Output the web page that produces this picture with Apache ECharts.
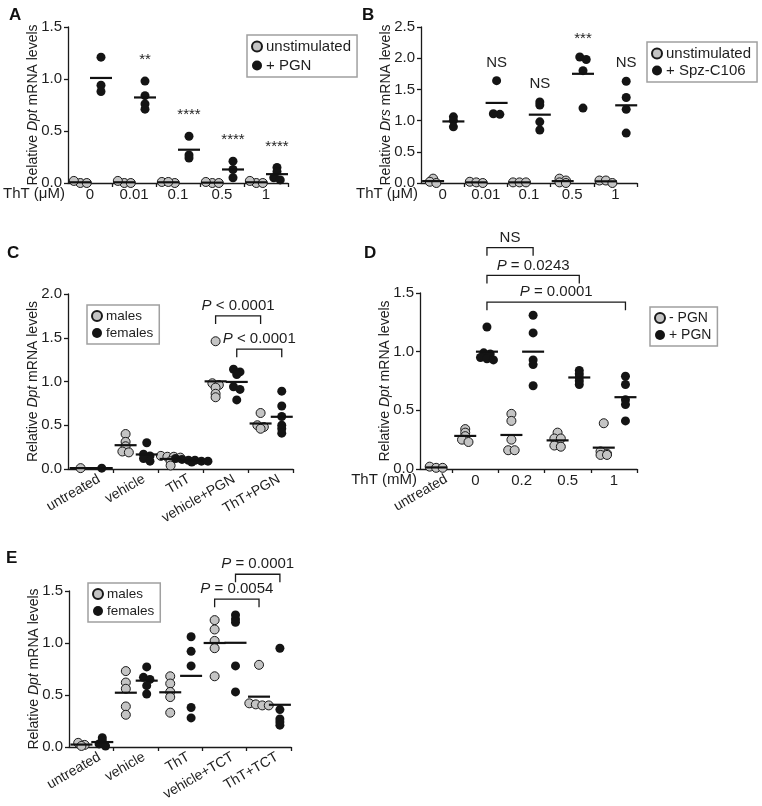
<!DOCTYPE html>
<html><head><meta charset="utf-8">
<script src="https://cdn.jsdelivr.net/npm/echarts@6/dist/echarts.min.js"></script>
<style>html,body{margin:0;padding:0;background:#fff}#c{width:762px;height:806px}</style>
</head><body><div id="c"></div>
<script>
// ---------------- data ----------------
const catsA = ['0', '0.01', '0.1', '0.5', '1'];
const aUnstim = [[0.0, 0.0, 0.02], [0.0, 0.0, 0.02], [0.0, 0.01, 0.01], [0.0, 0.0, 0.01], [0.0, 0.0, 0.02]];
const aPGN = [[1.21, 0.94, 0.88], [0.98, 0.84, 0.76, 0.71], [0.45, 0.27, 0.24], [0.21, 0.13, 0.05], [0.15, 0.11, 0.05, 0.03]];
const annA = ['', '**', '****', '****', '****'];

const catsB = ['0', '0.01', '0.1', '0.5', '1'];
const bUnstim = [[0.07, 0.02, 0.0], [0.02, 0.01, 0.0], [0.01, 0.01, 0.01], [0.07, 0.04, 0.01, 0.0], [0.04, 0.04, 0.0]];
const bSpz = [[1.06, 1.0, 0.9], [1.64, 1.10, 1.11], [1.30, 1.25, 0.98, 0.85], [2.02, 1.98, 1.80, 1.20], [1.63, 1.37, 1.18, 0.80]];
const annB = ['', 'NS', 'NS', '***', 'NS'];

const catsC = ['untreated', 'vehicle', 'ThT', 'vehicle+PGN', 'ThT+PGN'];
const cMales = [[0.01], [0.40, 0.31, 0.26, 0.20, 0.19], [0.15, 0.14, 0.14, 0.13, 0.09, 0.04], [1.46, 0.98, 0.96, 0.93, 0.86, 0.82], [0.64, 0.50, 0.48, 0.46]];
const cFemales = [[0.01], [0.30, 0.17, 0.15, 0.12, 0.09], [0.12, 0.11, 0.10, 0.10, 0.09, 0.09, 0.08], [1.14, 1.11, 1.08, 0.94, 0.91, 0.79], [0.89, 0.72, 0.60, 0.50, 0.46, 0.41]];
const cBrkFrom = [[3, 0], [3, 1]];
const cBrkTo = [[4, 0], [4, 1]];
const cBrkLevel = [1.75, 1.37];
const cBrkText = ['P < 0.0001', 'P < 0.0001'];

const catsD = ['untreated', '0', '0.2', '0.5', '1'];
const dMinus = [[0.02, 0.01, 0.01], [0.34, 0.31, 0.28, 0.25, 0.23], [0.47, 0.41, 0.25, 0.16, 0.16], [0.31, 0.26, 0.26, 0.20, 0.19], [0.39, 0.15, 0.13, 0.12, 0.12]];
const dPlus = [[], [1.21, 0.99, 0.98, 0.95, 0.94, 0.93], [1.31, 1.16, 0.93, 0.89, 0.71], [0.84, 0.81, 0.78, 0.75, 0.72], [0.79, 0.72, 0.59, 0.55, 0.41]];
const dBrkFrom = [[1, 1], [1, 1], [1, 1]];
const dBrkTo = [[2, 1], [3, 1], [4, 1]];
const dBrkLevel = [1.886, 1.65, 1.422];
const dBrkText = ['NS', 'P = 0.0243', 'P = 0.0001'];

const catsE = ['untreated', 'vehicle', 'ThT', 'vehicle+TCT', 'ThT+TCT'];
const eMales = [[0.04, 0.02, 0.01], [0.73, 0.62, 0.56, 0.39, 0.31], [0.68, 0.61, 0.53, 0.48, 0.33], [1.22, 1.13, 1.02, 0.95, 0.68], [0.79, 0.42, 0.41, 0.40, 0.40]];
const eFemales = [[0.09, 0.06, 0.03, 0.01], [0.77, 0.67, 0.65, 0.59, 0.51], [1.06, 0.92, 0.78, 0.38, 0.28], [1.27, 1.23, 1.20, 0.78, 0.53], [0.95, 0.36, 0.27, 0.24, 0.21]];
const eBrkFrom = [[3, 0], [3, 1]];
const eBrkTo = [[4, 0], [4, 1]];
const eBrkLevel = [1.421, 1.661];
const eBrkText = ['P = 0.0054', 'P = 0.0001'];

// ---------------- layout / style ----------------
const FONT = '"Liberation Sans", Arial, Helvetica, sans-serif';
const TXT = '#1e1e1e';
const LINE = '#1a1a1a';
const OFF = [-0.22, 0.25];
const DOT = 9;

const panels = [
  {letter: 'A', cats: catsA, g: aUnstim, b: aPGN, names: ['unstimulated', '+ PGN'], gene: 'Dpt', ymax: 1.5, ann: annA,
    lay: {grid: {left: 68, top: 27, width: 220, height: 156}, widths: [1, 1, 1, 1, 1], rotate: 0, shift: 0, annPx: 21,
      xName: 'ThT (\u03bcM)', legend: {left: 247, top: 35}, legendFont: 15, legendGap: 4, letterPos: [9, 7]}},
  {letter: 'B', cats: catsB, g: bUnstim, b: bSpz, names: ['unstimulated', '+ Spz-C106'], gene: 'Drs', ymax: 2.5, ann: annB,
    lay: {grid: {left: 421, top: 27, width: 216, height: 156}, widths: [1, 1, 1, 1, 1], rotate: 0, shift: 0, annPx: 18,
      xName: 'ThT (\u03bcM)', legend: {left: 647, top: 42}, legendFont: 15, legendGap: 2, letterPos: [362, 7]}},
  {letter: 'C', cats: catsC, g: cMales, b: cFemales, names: ['males', 'females'], gene: 'Dpt', ymax: 2.0,
    brk: {from: cBrkFrom, to: cBrkTo, level: cBrkLevel, text: cBrkText},
    lay: {grid: {left: 68, top: 294, width: 225, height: 175}, widths: [1, 1, 1, 1, 1], rotate: 30, shift: 0.19,
      legend: {left: 87, top: 305}, legendFont: 13.5, legendGap: 3, letterPos: [7, 245]}},
  {letter: 'D', cats: catsD, g: dMinus, b: dPlus, names: ['- PGN', '+ PGN'], gene: 'Dpt', ymax: 1.5,
    brk: {from: dBrkFrom, to: dBrkTo, level: dBrkLevel, text: dBrkText},
    lay: {grid: {left: 420, top: 293, width: 217, height: 176}, widths: [0.7, 1, 1, 1, 1], rotate: 0, shift: 0, rotFirst: 0.22,
      xName: 'ThT (mM)', legend: {left: 650, top: 307}, legendFont: 14, legendGap: 3, letterPos: [364, 245]}},
  {letter: 'E', cats: catsE, g: eMales, b: eFemales, names: ['males', 'females'], gene: 'Dpt', ymax: 1.5,
    brk: {from: eBrkFrom, to: eBrkTo, level: eBrkLevel, text: eBrkText},
    lay: {grid: {left: 69, top: 591, width: 222, height: 156}, widths: [1, 1, 1, 1, 1], rotate: 30, shift: 0.19,
      legend: {left: 88, top: 583}, legendFont: 13.5, legendGap: 3, letterPos: [6, 550]}}
];

// beeswarm-like horizontal spreading of points that share (nearly) the same level
function swarm(vals, pxY, diam) {
  const h = diam * 0.3, sp = diam * 0.72;
  const order = vals.map((v, i) => i).sort((a, b) => vals[b] - vals[a]);
  const off = new Array(vals.length).fill(0);
  let row = [], start = null;
  const flush = () => { row.forEach((i, k) => { off[i] = (k - (row.length - 1) / 2) * sp; }); };
  order.forEach(i => {
    const py = vals[i] * pxY;
    if (start === null || start - py >= h) { flush(); row = [i]; start = py; }
    else row.push(i);
  });
  flush();
  return off;
}
const mean = a => a.reduce((s, v) => s + v, 0) / a.length;

function pText(t) {
  if (t.startsWith('P ')) return '{i|P}' + t.slice(1);
  return t;
}
const richText = {i: {fontStyle: 'italic', fontSize: 15, fontFamily: FONT, fill: TXT, color: TXT}};

const option = {animation: false, backgroundColor: '#fff', grid: [], xAxis: [], yAxis: [], series: [], legend: [], graphic: []};
const extraX = [];

panels.forEach((p, k) => {
  const L = p.lay, W = L.widths;
  const total = W.reduce((a, b) => a + b, 0);
  const centers = [], bounds = [];
  let acc = 0;
  W.forEach(w => { centers.push(acc + w / 2); acc += w; bounds.push(acc); });
  const pxX = L.grid.width / total, pxY = L.grid.height / p.ymax;
  const sets = [p.g, p.b];
  const sx = (g, s) => {
    const other = sets[1 - s][g];
    return centers[g] + (other && other.length ? OFF[s] : 0);
  };

  option.grid.push(Object.assign({containLabel: false, outerBoundsMode: 'none'}, L.grid));

  const labelIdx = L.rotFirst !== undefined ? [1, 2, 3, 4] : [0, 1, 2, 3, 4];
  const labelPos = labelIdx.map(i => centers[i] + L.shift);
  const lineStyle = {color: LINE, width: 1.3};
  option.xAxis.push({
    type: 'value', gridIndex: k, min: 0, max: total,
    axisLine: {show: true, onZero: false, lineStyle},
    axisTick: {show: true, length: 4, customValues: bounds, lineStyle},
    axisLabel: {show: true, customValues: labelPos, rotate: L.rotate, fontSize: L.rotate ? 14 : 15, fontFamily: FONT, color: TXT,
      margin: L.rotate ? 9 : 4,
      formatter: v => { const j = labelPos.findIndex(c => Math.abs(c - v) < 1e-6); return j >= 0 ? p.cats[labelIdx[j]] : ''; }},
    splitLine: {show: false},
    name: L.xName || '', nameLocation: 'start', nameGap: 3, nameMoveOverlap: false,
    nameTextStyle: {fontSize: 15, fontFamily: FONT, color: TXT, align: 'right', verticalAlign: 'top', padding: [3, 0, 0, 0]}
  });
  if (L.rotFirst !== undefined) {
    const pos0 = centers[0] + L.rotFirst;
    extraX.push({
      type: 'value', gridIndex: k, min: 0, max: total, position: 'bottom',
      axisLine: {show: false}, axisTick: {show: false}, splitLine: {show: false},
      axisLabel: {show: true, customValues: [pos0], rotate: 30, fontSize: 14, fontFamily: FONT, color: TXT, margin: 9,
        formatter: () => p.cats[0]}
    });
  }
  option.yAxis.push({
    type: 'value', gridIndex: k, min: 0, max: p.ymax, interval: 0.5,
    axisLine: {show: true, lineStyle},
    axisTick: {show: true, length: 4, lineStyle},
    axisLabel: {fontSize: 15, fontFamily: FONT, color: TXT, margin: 6, formatter: v => v.toFixed(1)},
    splitLine: {show: false},
    name: '{n|Relative }{i|' + p.gene + '}{n| mRNA levels}', nameLocation: 'middle', nameGap: 28, nameRotate: 90,
    nameMoveOverlap: false,
    nameTextStyle: {rich: {n: {fontSize: 14, fontFamily: FONT, color: TXT}, i: {fontSize: 14, fontFamily: FONT, color: TXT, fontStyle: 'italic'}}}
  });

  // points
  [0, 1].forEach(s => {
    const pts = [], means = [];
    sets[s].forEach((vals, g) => {
      if (!vals.length) return;
      const offs = swarm(vals, pxY, DOT);
      vals.forEach((v, i) => pts.push([sx(g, s) + offs[i] / pxX, v]));
      means.push([sx(g, s), mean(vals)]);
    });
    option.series.push({
      type: 'scatter', name: p.names[s], xAxisIndex: k, yAxisIndex: k, data: pts, symbol: 'circle', symbolSize: DOT,
      itemStyle: s === 0 ? {color: '#c4c4c4', borderColor: '#1a1a1a', borderWidth: 1, opacity: 1} : {color: '#141414', opacity: 1},
      clip: false, silent: true, z: 3 + s, emphasis: {disabled: true}
    });
    option.series.push({
      type: 'scatter', name: 'mean-' + p.letter + s, xAxisIndex: k, yAxisIndex: k, data: means, symbol: 'rect',
      symbolSize: [22, 2.2], itemStyle: {color: '#111', opacity: 1}, clip: false, silent: true, z: 6, emphasis: {disabled: true}
    });
  });

  // significance annotations above groups
  if (p.ann) {
    const items = [];
    p.ann.forEach((t, g) => { if (t) items.push({x: sx(g, 1), y: Math.max(...p.b[g]) + L.annPx / pxY, t}); });
    option.series.push({
      type: 'custom', xAxisIndex: k, yAxisIndex: k, clip: false, silent: true, z: 8,
      data: items.map(it => [it.x, it.y]),
      renderItem: (params, api) => {
        const pt = api.coord([api.value(0), api.value(1)]);
        return {type: 'text', x: pt[0], y: pt[1], style: {text: items[params.dataIndex].t, fill: TXT, fontSize: 15, fontFamily: FONT, align: 'center', verticalAlign: 'middle'}};
      }
    });
  }
  // comparison brackets
  if (p.brk) {
    const B = p.brk, legPx = 8;
    const data = B.level.map((lv, j) => [sx(B.from[j][0], B.from[j][1]), lv, sx(B.to[j][0], B.to[j][1]), lv - legPx / pxY]);
    option.series.push({
      type: 'custom', xAxisIndex: k, yAxisIndex: k, clip: false, silent: true, z: 8,
      encode: {x: [0, 2], y: [1, 3]},
      data,
      renderItem: (params, api) => {
        const x1 = api.value(0), y = api.value(1), x2 = api.value(2), yl = api.value(3);
        const a = api.coord([x1, yl]), b = api.coord([x1, y]), c = api.coord([x2, y]), d = api.coord([x2, yl]);
        return {type: 'group', children: [
          {type: 'polyline', shape: {points: [a, b, c, d]}, style: {stroke: LINE, lineWidth: 1.3, fill: null}},
          {type: 'text', x: (b[0] + c[0]) / 2, y: b[1] - 10, style: {text: pText(B.text[params.dataIndex]), rich: richText,
            fill: TXT, fontSize: 15, fontFamily: FONT, align: 'center', verticalAlign: 'middle'}}
        ]};
      }
    });
  }

  option.legend.push({
    data: p.names, orient: 'vertical', left: L.legend.left, top: L.legend.top,
    itemWidth: 10, itemHeight: 10, itemGap: L.legendGap, padding: [4, 6, 4, 4],
    borderColor: '#a0a0a0', borderWidth: 1.5, backgroundColor: '#fff', selectedMode: false,
    textStyle: {fontSize: L.legendFont, fontFamily: FONT, color: TXT, padding: [0, 0, 0, -1]}
  });
  option.graphic.push({type: 'text', left: L.letterPos[0], top: L.letterPos[1], silent: true,
    style: {text: p.letter, font: 'bold 17px ' + FONT, fill: '#111'}});
});
extraX.forEach(a => option.xAxis.push(a));

const chart = echarts.init(document.getElementById('c'), null, {renderer: 'canvas'});
chart.setOption(option);
</script>
</body></html>
